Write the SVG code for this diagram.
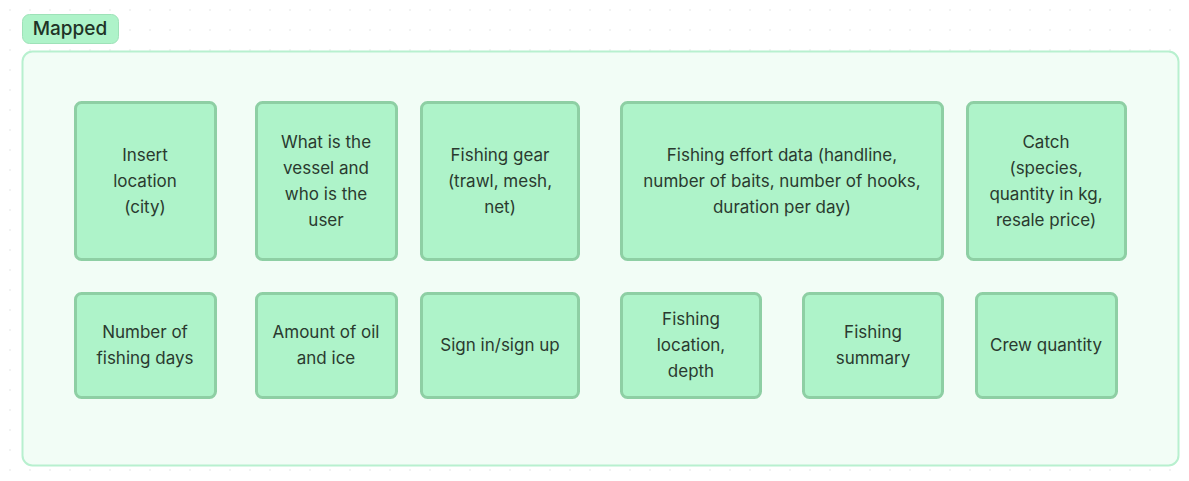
<svg xmlns="http://www.w3.org/2000/svg" width="1189" height="481" viewBox="0 0 1189 481">
<style>
.node rect{fill:#aef3c9;stroke:#8ecfa4;stroke-width:3}
.node text{font-family:Inter,"Noto Sans","Liberation Sans",sans-serif;font-size:17px;fill:#2a3a2f;text-anchor:middle}
.title{font-family:Inter,"Noto Sans","Liberation Sans",sans-serif;font-size:19px;font-weight:500;fill:#1f3327}
</style>
<defs>
<pattern id="dots" x="0" y="0" width="20" height="20" patternUnits="userSpaceOnUse">
<circle cx="10" cy="10" r="0.9" fill="#eceeed"/>
</pattern>
</defs>
<rect width="1189" height="481" fill="#ffffff"/>
<rect width="1189" height="481" fill="url(#dots)"/>
<g id="label-mapped">
<rect x="22.5" y="14.5" width="96" height="29" rx="7" fill="#aef3c9" stroke="#9ee2b8" stroke-width="1"/>
<text class="title" x="70" y="35" text-anchor="middle">Mapped</text>
</g>
<g id="container">
<rect x="22.5" y="51.5" width="1156" height="414" rx="10" fill="#f2fdf6" stroke="#b8f0cf" stroke-width="2"/>
</g>
<g id="connectors"></g>
<g id="n1" class="node"><rect x="75.5" y="102.5" width="140" height="157" rx="6"/>
<text x="145" y="161">Insert</text><text x="145" y="187">location</text><text x="145" y="213">(city)</text></g>
<g id="n2" class="node"><rect x="256.5" y="102.5" width="140" height="157" rx="6"/>
<text x="326" y="148">What is the</text><text x="326" y="174">vessel and</text><text x="326" y="200">who is the</text><text x="326" y="226">user</text></g>
<g id="n3" class="node"><rect x="421.5" y="102.5" width="157" height="157" rx="6"/>
<text x="500" y="161">Fishing gear</text><text x="500" y="187">(trawl, mesh,</text><text x="500" y="213">net)</text></g>
<g id="n4" class="node"><rect x="621.5" y="102.5" width="321" height="157" rx="6"/>
<text x="782" y="161">Fishing effort data (handline,</text><text x="782" y="187">number of baits, number of hooks,</text><text x="782" y="213">duration per day)</text></g>
<g id="n5" class="node"><rect x="967.5" y="102.5" width="158" height="157" rx="6"/>
<text x="1046" y="148">Catch</text><text x="1046" y="174">(species,</text><text x="1046" y="200">quantity in kg,</text><text x="1046" y="226">resale price)</text></g>
<g id="n6" class="node"><rect x="75.5" y="293.5" width="140" height="104" rx="6"/>
<text x="145" y="338">Number of</text><text x="145" y="364">fishing days</text></g>
<g id="n7" class="node"><rect x="256.5" y="293.5" width="140" height="104" rx="6"/>
<text x="326" y="338">Amount of oil</text><text x="326" y="364">and ice</text></g>
<g id="n8" class="node"><rect x="421.5" y="293.5" width="157" height="104" rx="6"/>
<text x="500" y="351">Sign in/sign up</text></g>
<g id="n9" class="node"><rect x="621.5" y="293.5" width="139" height="104" rx="6"/>
<text x="691" y="325">Fishing</text><text x="691" y="351">location,</text><text x="691" y="377">depth</text></g>
<g id="n10" class="node"><rect x="803.5" y="293.5" width="139" height="104" rx="6"/>
<text x="873" y="338">Fishing</text><text x="873" y="364">summary</text></g>
<g id="n11" class="node"><rect x="976.5" y="293.5" width="140" height="104" rx="6"/>
<text x="1046" y="351">Crew quantity</text></g>
</svg>
